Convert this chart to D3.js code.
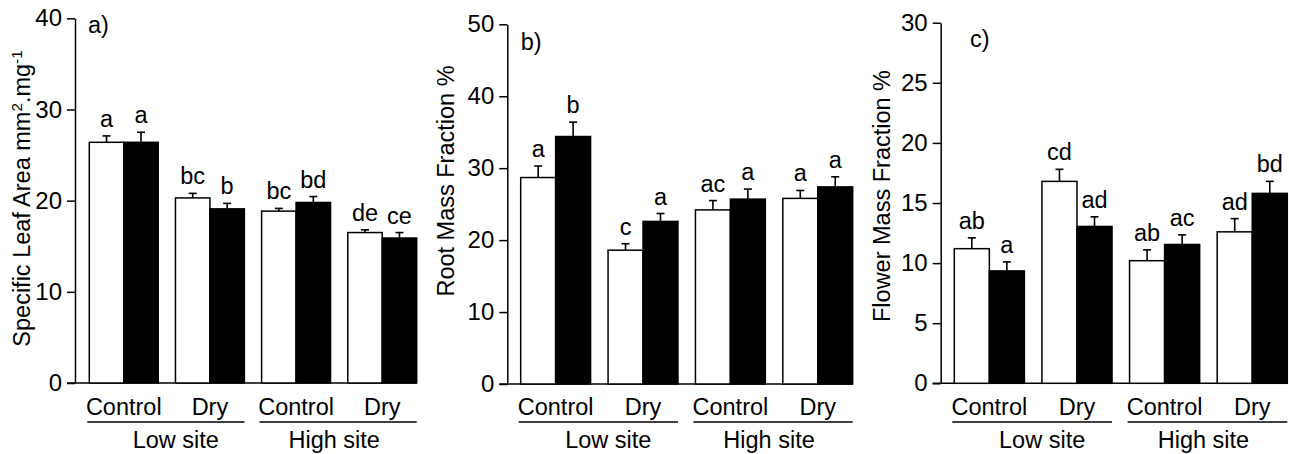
<!DOCTYPE html>
<html><head><meta charset="utf-8">
<script src="https://cdn.jsdelivr.net/npm/d3@7"></script>
<style>
html,body{margin:0;padding:0;background:#fff;}
svg text{font-family:"Liberation Sans",Arial,sans-serif;fill:#000;}
</style></head>
<body><svg id="chart" width="1289" height="454"></svg>
<script>
// ---- data ----
const treatments = ["Control", "Dry", "Control", "Dry"];
const sites = ["Low site", "High site"];
const seriesNames = ["open", "filled"];

// Panel a) Specific Leaf Area
const slaOpen = [26.4, 20.3, 18.85, 16.5];
const slaOpenSE = [0.7, 0.5, 0.3, 0.3];
const slaFilled = [26.4, 19.1, 19.8, 15.9];
const slaFilledSE = [1.1, 0.6, 0.65, 0.6];
const slaOpenLetters = ["a", "bc", "bc", "de"];
const slaFilledLetters = ["a", "b", "bd", "ce"];
const slaTicks = [0, 10, 20, 30, 40];

// Panel b) Root Mass Fraction
const rmfOpen = [28.7, 18.6, 24.2, 25.8];
const rmfOpenSE = [1.6, 0.9, 1.3, 1.1];
const rmfFilled = [34.4, 22.6, 25.7, 27.4];
const rmfFilledSE = [2.0, 1.1, 1.4, 1.4];
const rmfOpenLetters = ["a", "c", "ac", "a"];
const rmfFilledLetters = ["b", "a", "a", "a"];
const rmfTicks = [0, 10, 20, 30, 40, 50];

// Panel c) Flower Mass Fraction
const fmfOpen = [11.2, 16.8, 10.2, 12.6];
const fmfOpenSE = [0.9, 1.0, 0.9, 1.1];
const fmfFilled = [9.35, 13.05, 11.55, 15.8];
const fmfFilledSE = [0.75, 0.8, 0.8, 1.0];
const fmfOpenLetters = ["ab", "cd", "ab", "ad"];
const fmfFilledLetters = ["a", "ad", "ac", "bd"];
const fmfTicks = [0, 5, 10, 15, 20, 25, 30];

// ---- layout ----
const panels = [
  {tag:"a)", tagX:88, tagY:33, axisX:75, y0:383, y1:18.3, max:40, ticks:slaTicks,
   barL:89.3, barR:416.7, labX:30, labY:198.5,
   label:[["Specific Leaf Area mm",0],["2",1],[".mg",0],["-1",1]],
   open:slaOpen, openSE:slaOpenSE, filled:slaFilled, filledSE:slaFilledSE,
   openL:slaOpenLetters, filledL:slaFilledLetters},
  {tag:"b)", tagX:520.7, tagY:50, axisX:507.3, y0:384, y1:24.3, max:50, ticks:rmfTicks,
   barL:520.7, barR:852.7, labX:454, labY:181,
   label:[["Root Mass Fraction %",0]],
   open:rmfOpen, openSE:rmfOpenSE, filled:rmfFilled, filledSE:rmfFilledSE,
   openL:rmfOpenLetters, filledL:rmfFilledLetters},
  {tag:"c)", tagX:970, tagY:47, axisX:940.7, y0:383.3, y1:22.7, max:30, ticks:fmfTicks,
   barL:954.3, barR:1287.3, labX:890, labY:196,
   label:[["Flower Mass Fraction %",0]],
   open:fmfOpen, openSE:fmfOpenSE, filled:fmfFilled, filledSE:fmfFilledSE,
   openL:fmfOpenLetters, filledL:fmfFilledLetters}
];

const svg = d3.select("#chart");
const FS = 23.5;

panels.forEach(p => {
  const g = svg.append("g");
  const y = d3.scaleLinear().domain([0, p.max]).range([p.y0, p.y1]);
  const idx = d3.range(treatments.length);
  const x0 = d3.scaleBand().domain(idx).range([p.barL, p.barR]).paddingInner(0.2).paddingOuter(0);
  const x1 = d3.scaleBand().domain(seriesNames).range([0, x0.bandwidth()]).padding(0);

  // y axis
  const ax = g.append("g").attr("transform", `translate(${p.axisX},0)`)
    .call(d3.axisLeft(y).tickValues(p.ticks).tickSize(8).tickSizeOuter(0).tickPadding(5));
  ax.selectAll("path,line").attr("stroke", "#000").attr("stroke-width", 1.5);
  ax.selectAll("text").style("font-size", "24px").style("font-family", '"Liberation Sans",Arial,sans-serif').attr("fill", "#000");

  // baseline
  g.append("line").attr("x1", p.axisX - 8).attr("x2", p.barR).attr("y1", y(0)).attr("y2", y(0))
    .attr("stroke", "#000").attr("stroke-width", 1.5);

  const rows = [];
  idx.forEach(i => {
    rows.push({i, s:"open", v:p.open[i], se:p.openSE[i], l:p.openL[i]});
    rows.push({i, s:"filled", v:p.filled[i], se:p.filledSE[i], l:p.filledL[i]});
  });

  // error bars (upward only)
  rows.forEach(d => {
    const cx = x0(d.i) + x1(d.s) + x1.bandwidth() / 2;
    g.append("line").attr("x1", cx).attr("x2", cx).attr("y1", y(d.v)).attr("y2", y(d.v + d.se))
      .attr("stroke", "#000").attr("stroke-width", 1.6);
    g.append("line").attr("x1", cx - 4).attr("x2", cx + 4).attr("y1", y(d.v + d.se)).attr("y2", y(d.v + d.se))
      .attr("stroke", "#000").attr("stroke-width", 1.6);
    g.append("text").attr("x", cx).attr("y", y(d.v + d.se) - 9).attr("text-anchor", "middle")
      .style("font-size", FS + "px").text(d.l);
  });

  // bars
  g.selectAll("rect.bar").data(rows).enter().append("rect")
    .attr("x", d => x0(d.i) + x1(d.s))
    .attr("y", d => y(d.v))
    .attr("width", x1.bandwidth())
    .attr("height", d => y(0) - y(d.v))
    .attr("fill", d => d.s === "open" ? "#fff" : "#000")
    .attr("stroke", "#000").attr("stroke-width", 1.5);

  // category labels
  idx.forEach(i => {
    g.append("text").attr("x", x0(i) + x0.bandwidth() / 2).attr("y", 414.5)
      .attr("text-anchor", "middle").style("font-size", FS + "px").text(treatments[i]);
  });
  // site underlines and labels
  sites.forEach((s, k) => {
    const a = x0(2 * k) - 2, b = x0(2 * k + 1) + x0.bandwidth();
    g.append("line").attr("x1", a).attr("x2", b).attr("y1", 422).attr("y2", 422)
      .attr("stroke", "#000").attr("stroke-width", 1.5);
    g.append("text").attr("x", (a + b) / 2 + (k === 0 ? 10 : -4)).attr("y", 447.5)
      .attr("text-anchor", "middle").style("font-size", FS + "px").text(s);
  });

  // panel tag
  g.append("text").attr("x", p.tagX).attr("y", p.tagY).style("font-size", FS + "px").text(p.tag);

  // y label
  const t = g.append("text").attr("transform", `translate(${p.labX},${p.labY}) rotate(-90)`)
    .attr("text-anchor", "middle").style("font-size", FS + "px");
  p.label.forEach(([str, sup]) => {
    const ts = t.append("tspan").text(str);
    if (sup) ts.attr("baseline-shift", "super").style("font-size", (FS * 0.65) + "px");
  });
});
</script></body></html>
